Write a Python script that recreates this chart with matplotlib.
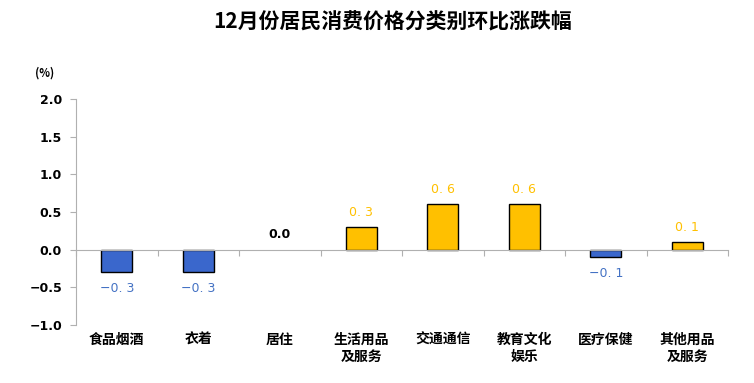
import matplotlib
matplotlib.use("Agg")
import matplotlib.pyplot as plt
import matplotlib.transforms as mtransforms
import numpy as np

plt.rcParams['font.family'] = ['Noto Sans CJK SC', 'DejaVu Sans']
plt.rcParams['axes.unicode_minus'] = False

categories = ["食品烟酒", "衣着", "居住", "生活用品\n及服务", "交通通信", "教育文化\n娱乐", "医疗保健", "其他用品\n及服务"]
values = [-0.3, -0.3, 0.0, 0.3, 0.6, 0.6, -0.1, 0.1]
yticks = [-1.0, -0.5, 0.0, 0.5, 1.0, 1.5, 2.0]
ytick_labels = ["−1.0", "−0.5", "0.0", "0.5", "1.0", "1.5", "2.0"]
title = "12月份居民消费价格分类别环比涨跌幅"

BLUE = "#3A67CC"
BLUE_TXT = "#4472C4"
YELLOW = "#FFC000"
GRAY = "#B0B0B0"

fig = plt.figure(figsize=(7.54, 3.83), dpi=100)
ax = fig.add_axes([76/754, 1-325/383, (728-76)/754, (325-99)/383])

x = np.arange(len(categories))
colors = [BLUE if v < 0 else YELLOW for v in values]
edges = ["black" if v != 0 else "none" for v in values]
ax.bar(x, values, width=0.38, color=colors, edgecolor=edges, linewidth=1.0, zorder=3)

ax.set_xlim(-0.5, len(categories) - 0.5)
ax.set_ylim(-1.0, 2.0)

for s in ["top", "right"]:
    ax.spines[s].set_visible(False)
ax.spines["left"].set_color(GRAY)
ax.spines["bottom"].set_color(GRAY)
ax.spines["bottom"].set_position(("data", 0))
ax.spines["bottom"].set_zorder(4)

ax.set_yticks(yticks)
ax.set_yticklabels(ytick_labels, fontsize=9, fontweight="bold", family=["DejaVu Sans"])
ax.tick_params(axis="y", direction="out", length=4, color=GRAY, pad=6)
for lab in ax.get_yticklabels():
    lab.set_horizontalalignment("right")

ax.set_xticks(np.arange(len(categories) + 1) - 0.5)
ax.set_xticklabels([])
ax.tick_params(axis="x", direction="out", length=4, color=GRAY)

trans = mtransforms.blended_transform_factory(ax.transData, ax.transAxes)
for xi, cat in zip(x, categories):
    ax.text(xi, -0.035, cat, transform=trans, ha="center", va="top",
            fontsize=10, fontweight="bold", linespacing=1.3)

for xi, v in zip(x, values):
    txt = ("−" if v < 0 else "") + "%.1f" % abs(v)
    txt = txt.replace(".", ". ")
    if v > 0:
        col, off, va = YELLOW, 6, "bottom"
    elif v < 0:
        col, off, va = BLUE_TXT, -7, "top"
    else:
        col, off, va = "black", 6, "bottom"
        txt = "0.0"
    ax.annotate(txt, (xi, v), xytext=(0, off), textcoords="offset points",
                ha="center", va=va, fontsize=9, fontweight="bold" if v == 0 else "normal",
                color=col, family=["DejaVu Sans"])

fig.text(45/754, 1-73/383, "(%)", fontsize=8, fontweight="bold", ha="center", va="center")
fig.text(393/754, 1-22/383, title, fontsize=15, fontweight="bold", ha="center", va="center")

fig.savefig("out.png", dpi=100)
